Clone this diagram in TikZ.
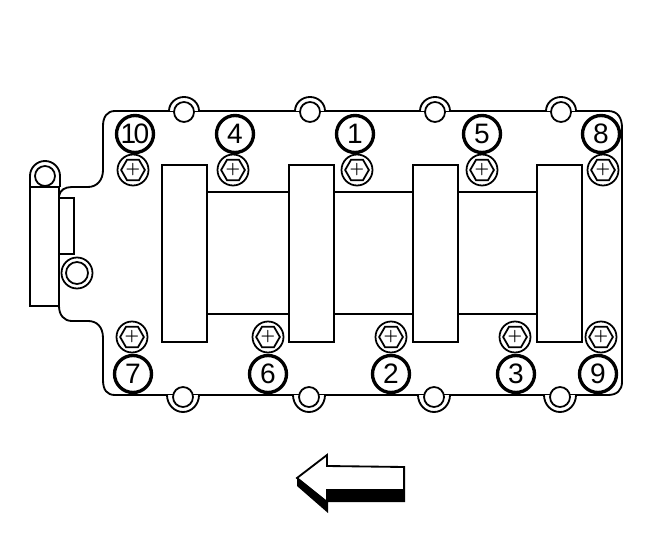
\documentclass[tikz,border=0pt]{standalone}
\usepackage{fontspec}
\setsansfont{Liberation Sans}
\usetikzlibrary{shapes.geometric}
\tikzset{
	web/.style={line width=.8pt},
	plate/.style={line width=1.05pt},
	heavy/.style={line width=1.6pt},
	numring/.style={circle,draw,line width=1.9pt,fill=white,minimum size=.74cm,inner sep=0pt,font=\sffamily\fontsize{16}{16}\selectfont},
	boltring/.style={circle,draw,line width=1pt,fill=white,minimum size=.62cm,inner sep=0pt},
	bolthex/.style={regular polygon,regular polygon sides=6,draw,line width=1pt,minimum size=.46cm,inner sep=0pt,font=\bfseries\small},
	bosshole/.style={circle,draw,line width=1pt,fill=white,minimum size=.4cm,inner sep=0pt}
}
\begin{document}
\begin{tikzpicture}[x=.02cm,y=-.02cm]
	\useasboundingbox (0,0) rectangle (672,550);
	
	% draw plate outline
	\draw[plate] (115,111) -- (608,111) .. controls (618,111) and (622,118) .. (622,128)
		-- (622,382) .. controls (622,390) and (617,395) .. (608,395)
		-- (115,395) .. controls (107,395) and (103,390) .. (103,380)
		-- (103,338) .. controls (103,327) and (97,321) .. (88,321)
		-- (72,321) .. controls (64,321) and (59,315) .. (59,306);
	\draw[plate] (59,196) .. controls (60,190) and (65,187) .. (72,187)
		-- (88,187) .. controls (97,187) and (103,180) .. (103,170)
		-- (103,126) .. controls (103,117) and (107,111) .. (115,111);
	
	% draw bosses along the edges
	\foreach \x [count=\i] in {184,310,435,561}{
		\draw[plate,fill=white] (\x-15,111) arc[start angle=180,end angle=360,x radius=15,y radius=14];
		\node[bosshole] (top\i) at (\x,112) {};
	}
	\foreach \x [count=\i] in {183,309,434,560}{
		\draw[plate,fill=white] (\x-16,395) arc[start angle=180,end angle=0,x radius=16,y radius=17];
		\node[bosshole] (bot\i) at (\x,397) {};
	}
	
	% draw bracket on the left
	\draw[plate,fill=white] (30,187) -- (30,176) arc[start angle=180,end angle=360,x radius=15,y radius=15] -- (60,187);
	\node[bosshole] (knob) at (45,176) {};
	\draw[heavy,fill=white] (30,187) rectangle (59,306);
	\draw[heavy] (59,198) -- (74,198) -- (74,254) -- (59,254);
	\node[boltring] (washer) at (77,273) {};
	\node[bosshole,minimum size=.44cm] (washerhole) at (77,273) {};
	
	% draw webs, then blocks
	\foreach \x/\xx in {207/289,334/413,458/537}{
		\draw[web] (\x,192) -- (\xx,192);
		\draw[web] (\x,314) -- (\xx,314);
	}
	\foreach \x in {162,289,413,537}
		\draw[heavy,fill=white] (\x,165) rectangle (\x+45,342);
	
	% draw bolts
	\foreach \n/\x/\y in {a/133/170,b/233/170,c/357/170,d/482/170,e/603/170,f/132/337,g/268/337,h/391/337,i/515/337,j/601/337}{
		\node[boltring] (ring\n) at (\x,\y) {};
		\node[bolthex] (bolt\n) at (\x,\y) {+};
	}
	
	% draw numbers
	\foreach \t/\x/\y in {4/235/134,1/355/134,5/482/134,8/601/134,7/133/374,6/268/374,2/391/374,3/516/374,9/598/374}
		\node[numring] (num\t) at (\x,\y) {\t};
	\node[numring] (num10) at (135,134) {1\kern-1.5pt 0};
	
	% draw arrow
	\fill (297,478) -- (297,486) -- (328,513) -- (328,502) -- (405,502) -- (405,466) -- (327,490) -- cycle;
	\draw[plate,fill=white] (297,478) -- (327,455) -- (327,466) -- (404,467) -- (404,490) -- (327,490) -- (327,502) -- cycle;
\end{tikzpicture}
\end{document}
